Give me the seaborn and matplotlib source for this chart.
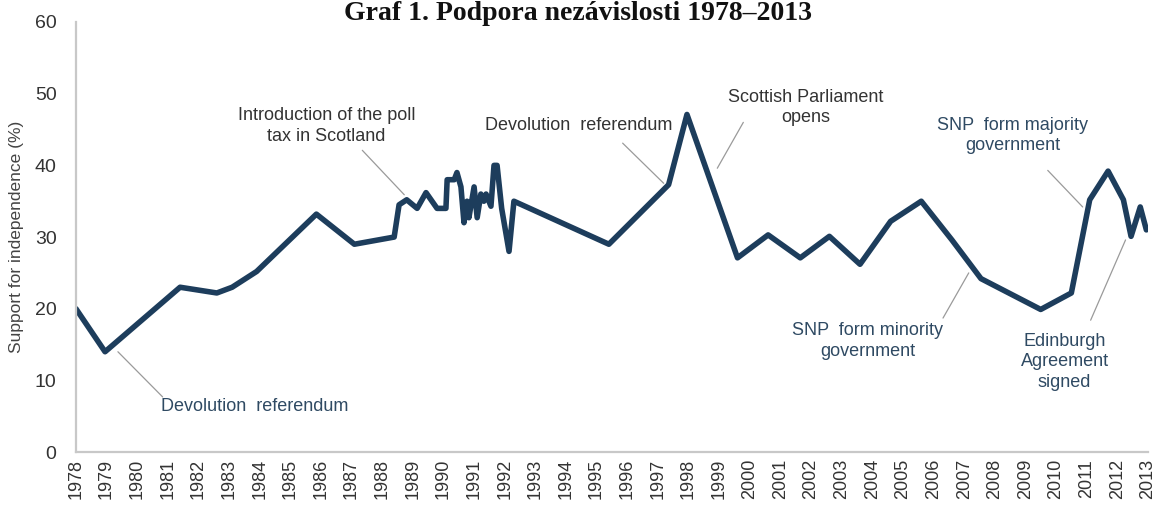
import matplotlib
matplotlib.use('Agg')
import matplotlib.pyplot as plt
import seaborn as sns
import pandas as pd

# ==== DATA ===================================================================
years = [1978.0, 1978.95, 1981.4, 1982.6, 1983.1, 1983.9, 1985.85, 1987.09,
         1988.39, 1988.55, 1988.8, 1989.14, 1989.43, 1989.79, 1990.08,
         1990.12, 1990.35, 1990.44, 1990.57, 1990.67, 1990.77, 1990.83,
         1991.0, 1991.1, 1991.22, 1991.32, 1991.39, 1991.55, 1991.65,
         1991.75, 1991.9, 1992.14, 1992.3, 1995.4, 1997.35, 1997.95,
         1999.6, 2000.6, 2001.65, 2002.6, 2003.6, 2004.6, 2005.6, 2006.6,
         2007.55, 2009.5, 2010.5, 2011.1, 2011.7, 2012.2, 2012.45, 2012.75,
         2012.95]
support = [20, 14, 23, 22.2, 23, 25.2, 33.2, 29, 30, 34.5, 35.2, 34, 36.2,
           34, 34, 38, 38, 39, 37, 32, 35, 32.7, 37, 32.7, 36, 35, 36, 34.3,
           40, 40, 34, 28, 35, 29, 37.3, 47.1, 27.1, 30.3, 27.1, 30.1, 26.2,
           32.2, 35, 29.6, 24.2, 19.9, 22.2, 35.2, 39.2, 35.2, 30.1, 34.2, 31]

tick_years = list(range(1978, 2014))
title = 'Graf 1. Podpora nezávislosti 1978–2013'
ylabel = 'Support for independence (%)'

# (text, text position, leader start, leader end, colour)
notes = [
    ('Introduction of the poll\ntax in Scotland', (1986.18, 45.5),
     (1987.35, 42.1), (1988.72, 35.9), '#333333'),
    ('Devolution  referendum', (1994.42, 45.6),
     (1995.85, 43.1), (1997.19, 37.5), '#333333'),
    ('Scottish Parliament\nopens', (2001.84, 48.1),
     (1999.79, 46.0), (1998.94, 39.6), '#333333'),
    ('SNP  form majority\ngovernment', (2008.59, 44.2),
     (2009.73, 39.3), (2010.87, 34.2), '#2f4a63'),
    ('SNP  form minority\ngovernment', (2003.86, 15.5),
     (2006.31, 18.7), (2007.15, 25.0), '#2f4a63'),
    ('Edinburgh\nAgreement\nsigned', (2010.28, 12.6),
     (2011.13, 18.4), (2012.27, 29.6), '#2f4a63'),
    ('Devolution  referendum', (1983.83, 6.3),
     (1979.37, 14.0), (1980.83, 7.7), '#2f4a63'),
]

# ==== SETTINGS ===============================================================
sns.set_style('white')
plt.rcParams['font.family'] = ['Liberation Sans', 'DejaVu Sans']

df = pd.DataFrame({'year': years, 'support': support})

# ==== FIGURE =================================================================
fig = plt.figure(figsize=(11.56, 5.08), dpi=100)
ax = fig.add_axes([0.0657, 0.110, 0.9273, 0.8467])

sns.lineplot(data=df, x='year', y='support', estimator=None, sort=False,
             color='#1d3d5c', linewidth=4.0, ax=ax)

# ==== ANNOTATIONS ============================================================
for text, tpos, p0, p1, col in notes:
    ax.text(tpos[0], tpos[1], text, ha='center', va='center', fontsize=13,
            color=col, linespacing=1.25)
    ax.plot([p0[0], p1[0]], [p0[1], p1[1]], color='#9a9a9a', linewidth=0.9)

# ==== AXIS ===================================================================
ax.set_xlim(1978, 2013)
ax.set_ylim(0, 60)
ax.set_xticks(tick_years)
ax.set_xticklabels([str(y) for y in tick_years], rotation=90, fontsize=13,
                   color='#333333')
ax.set_yticks(range(0, 61, 10))
ax.tick_params(axis='y', labelsize=14, colors='#333333', length=0, pad=14)
ax.tick_params(axis='x', length=0, pad=5)
ax.set_xlabel('')
ax.set_ylabel(ylabel, fontsize=12.5, color='#444444', labelpad=8)
for side in ['top', 'right']:
    ax.spines[side].set_visible(False)
for side in ['left', 'bottom']:
    ax.spines[side].set_color('#c8c8c8')
    ax.spines[side].set_linewidth(1.6)

# ==== TITLE ==================================================================
fig.text(0.5, 1 - 13 / 508, title, ha='center', va='center', fontsize=20,
         fontweight='bold', family='Liberation Serif', color='#111111')

fig.savefig('out.png', dpi=100, facecolor='white')
